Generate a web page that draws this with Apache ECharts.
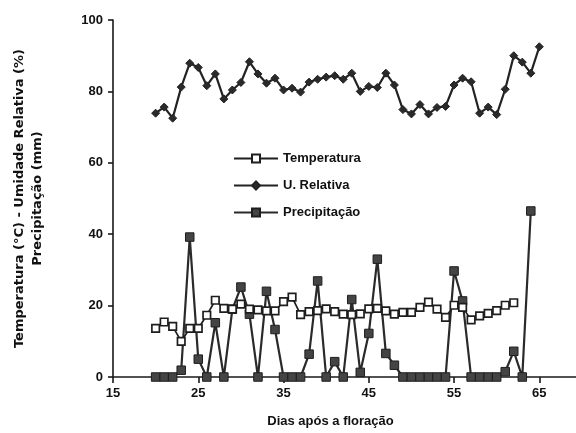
<!DOCTYPE html>
<html>
<head>
<meta charset="utf-8">
<script src="https://cdn.jsdelivr.net/npm/echarts@6/dist/echarts.min.js"></script>
<style>html,body{margin:0;padding:0;background:#fff;}#c{width:576px;height:433px;}</style>
</head>
<body>
<div id="c"></div>
<script>
const humDays = [20,21,22,23,24,25,26,27,28,29,30,31,32,33,34,35,36,37,38,39,40,41,42,43,44,45,46,47,48,49,50,51,52,53,54,55,56,57,58,59,60,61,62,63,64,65];
const humidity = [73.9,75.6,72.5,81.2,87.9,86.7,81.6,84.9,77.9,80.4,82.5,88.3,84.9,82.3,83.7,80.4,80.9,79.8,82.6,83.4,84.0,84.4,83.4,85.1,80.0,81.4,81.1,85.1,81.8,74.9,73.7,76.3,73.7,75.5,75.8,81.8,83.7,82.7,73.9,75.6,73.5,80.6,90.0,88.2,85.1,92.5];
const tempDays = [20,21,22,23,24,25,26,27,28,29,30,31,32,33,34,35,36,37,38,39,40,41,42,43,44,45,46,47,48,49,50,51,52,53,54,55,56,57,58,59,60,61,62];
const temperature = [13.6,15.4,14.2,10.0,13.6,13.6,17.3,21.5,19.2,19.0,20.4,19.0,18.8,18.5,18.5,21.1,22.4,17.5,18.3,18.6,19.1,18.3,17.6,17.5,17.7,19.1,19.2,18.5,17.6,18.1,18.1,19.5,21.0,19.0,16.7,20.1,19.5,16.0,17.1,17.8,18.6,20.1,20.8];
const precDays = [20,21,22,23,24,25,26,27,28,29,30,31,32,33,34,35,36,37,38,39,40,41,42,43,44,45,46,47,48,49,50,51,52,53,54,55,56,57,58,59,60,61,62,63,64];
const precipitation = [0,0,0,1.9,39.2,5.0,0,15.2,0,19.0,25.2,17.6,0,24.0,13.3,0,0,0,6.4,26.9,0,4.3,0,21.7,1.3,12.2,33.0,6.6,3.3,0,0,0,0,0,0,29.7,21.3,0,0,0,0,1.5,7.2,0,46.5];
const xTicks = [15,25,35,45,55,65];
const yTicks = [0,20,40,60,80,100];

const pairs = (xs, ys) => xs.map((x, i) => [x, ys[i]]);
const FONT = 'Liberation Sans';
const chart = echarts.init(document.getElementById('c'), null, {renderer: 'canvas'});
chart.setOption({
  animation: false,
  backgroundColor: '#ffffff',
  grid: {left: 113, right: 0, top: 20, bottom: 55},
  legend: {
    orient: 'vertical', left: 228, top: 147, itemGap: 14, itemWidth: 44, itemHeight: 10,
    textStyle: {fontFamily: FONT, fontWeight: 'bold', fontSize: 13, color: '#111'},
    data: ['Temperatura', 'U. Relativa', 'Precipitação']
  },
  xAxis: {
    type: 'value', min: 15, max: 69.3,
    name: 'Dias após a floração', nameLocation: 'middle', nameGap: 38,
    nameTextStyle: {fontFamily: FONT, fontWeight: 'bold', fontSize: 13, color: '#111', padding: [0, 28, 0, 0]},
    axisLine: {lineStyle: {color: '#1a1a1a', width: 1.6}},
    axisTick: {customValues: xTicks, length: 6, lineStyle: {color: '#1a1a1a', width: 1.6}},
    axisLabel: {customValues: xTicks, fontFamily: FONT, fontWeight: 'bold', fontSize: 13, color: '#111', margin: 10},
    splitLine: {show: false}
  },
  yAxis: {
    type: 'value', min: 0, max: 100, interval: 20,
    name: 'Temperatura (°C) - Umidade Relativa (%)\nPrecipitação (mm)', nameLocation: 'middle', nameGap: 66, nameRotate: 90,
    nameTextStyle: {fontFamily: 'DejaVu Sans', fontWeight: 'bold', fontSize: 13, color: '#111', lineHeight: 18},
    axisLine: {show: true, lineStyle: {color: '#1a1a1a', width: 1.6}},
    axisTick: {show: true, length: 5, lineStyle: {color: '#1a1a1a', width: 1.6}},
    axisLabel: {fontFamily: FONT, fontWeight: 'bold', fontSize: 13, color: '#111', margin: 10,
      customValues: yTicks},
    splitLine: {show: false}
  },
  series: [
    {
      name: 'Temperatura', type: 'line', data: pairs(tempDays, temperature),
      symbol: 'rect', symbolSize: 7.5, z: 3,
      lineStyle: {color: '#1e1e1e', width: 1.7},
      itemStyle: {color: '#fff', borderColor: '#1e1e1e', borderWidth: 1.7}
    },
    {
      name: 'U. Relativa', type: 'line', data: pairs(humDays, humidity),
      symbol: 'diamond', symbolSize: 8, z: 3,
      lineStyle: {color: '#222', width: 2.2},
      itemStyle: {color: '#2a2a2a', borderColor: '#222', borderWidth: 1}
    },
    {
      name: 'Precipitação', type: 'line', data: pairs(precDays, precipitation),
      symbol: 'rect', symbolSize: 8.5, z: 2,
      lineStyle: {color: '#2a2a2a', width: 2.2},
      itemStyle: {color: '#444', borderColor: '#1e1e1e', borderWidth: 1}
    }
  ]
});
</script>
</body>
</html>
